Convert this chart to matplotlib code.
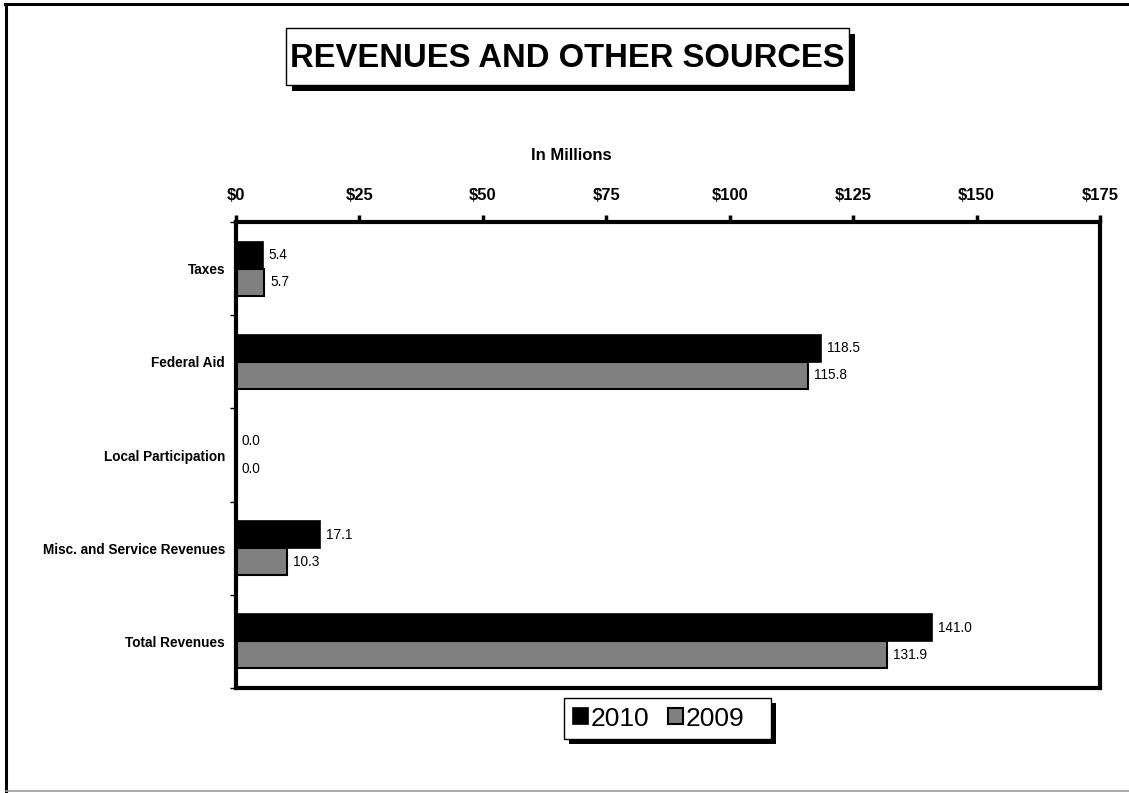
import matplotlib
matplotlib.use("Agg")
import matplotlib.pyplot as plt
from matplotlib.patches import Rectangle
import numpy as np

categories = ["Taxes", "Federal Aid", "Local Participation", "Misc. and Service Revenues", "Total Revenues"]
values_2010 = [5.4, 118.5, 0.0, 17.1, 141.0]
values_2009 = [5.7, 115.8, 0.0, 10.3, 131.9]
series_names = ["2010", "2009"]
xticks = [0, 25, 50, 75, 100, 125, 150, 175]
xtick_labels = ["$0", "$25", "$50", "$75", "$100", "$125", "$150", "$175"]

plt.rcParams['font.family'] = ['Liberation Sans', 'DejaVu Sans']

W, H = 1129, 793
fig = plt.figure(figsize=(W / 100, H / 100), dpi=100)

def fx(px):
    return px / W

def fy(py):
    return 1 - py / H

# outer frame lines
fig.add_artist(plt.Line2D([fx(6), fx(6)], [fy(4), fy(791)], color='black', lw=2.2))
fig.add_artist(plt.Line2D([fx(5), fx(1129)], [fy(4), fy(4)], color='black', lw=2.2))
fig.add_artist(plt.Line2D([fx(6), fx(1129)], [fy(791), fy(791)], color='#999999', lw=1.2))

ax_l, ax_t, ax_r, ax_b = 236, 222, 1100, 688
ax = fig.add_axes([fx(ax_l), fy(ax_b), fx(ax_r) - fx(ax_l), fy(ax_t) - fy(ax_b)])

y = np.arange(len(categories))
h = 0.29
ax.barh(y - h / 2, values_2010, height=h, color='black', edgecolor='black', lw=1.2, label=series_names[0])
ax.barh(y + h / 2, values_2009, height=h, color='#808080', edgecolor='black', lw=1.5, label=series_names[1])

for i in range(len(categories)):
    ax.text(values_2010[i] + 1.2, y[i] - h / 2, f"{values_2010[i]:.1f}", va='center', ha='left', fontsize=9.8)
    ax.text(values_2009[i] + 1.2, y[i] + h / 2, f"{values_2009[i]:.1f}", va='center', ha='left', fontsize=9.8)

ax.set_xlim(0, 175)
ax.set_ylim(len(categories) - 0.5, -0.5)
ax.xaxis.tick_top()
ax.xaxis.set_label_position('top')
ax.set_xticks(xticks)
ax.set_xticklabels(xtick_labels, fontsize=12, fontweight='bold')
ax.tick_params(axis='x', direction='out', length=5, width=2.5, pad=9)
ax.set_xlabel("In Millions", fontsize=12, fontweight='bold')
ax.xaxis.set_label_coords((571 - ax_l) / (ax_r - ax_l), (ax_b - 160) / (ax_b - ax_t))

ax.set_yticks(y)
ax.set_yticklabels(categories, fontsize=9.8, fontweight='bold')
ax.tick_params(axis='y', which='major', length=0, pad=8)
ax.set_yticks(np.arange(-0.5, len(categories), 1.0), minor=True)
ax.tick_params(axis='y', which='minor', direction='out', length=4, width=1)

for s in ax.spines.values():
    s.set_linewidth(3)
    s.set_color('black')

# title box with shadow
tl, tt, tr, tb = 286, 28, 849, 85
off = 6
fig.add_artist(Rectangle((fx(tl + off), fy(tb + off)), fx(tr) - fx(tl), fy(tt) - fy(tb),
                         transform=fig.transFigure, facecolor='black', edgecolor='none'))
fig.add_artist(Rectangle((fx(tl), fy(tb)), fx(tr) - fx(tl), fy(tt) - fy(tb),
                         transform=fig.transFigure, facecolor='white', edgecolor='black', lw=1))
fig.text(fx((tl + tr) / 2), fy((tt + tb) / 2 + 2), "REVENUES AND OTHER SOURCES",
         ha='center', va='center', fontsize=23.6, fontweight='bold')

# legend box with shadow
ll, lt, lr, lb = 564, 698, 771, 739
off2 = 5
fig.add_artist(Rectangle((fx(ll + off2), fy(lb + off2)), fx(lr) - fx(ll), fy(lt) - fy(lb),
                         transform=fig.transFigure, facecolor='black', edgecolor='none'))
fig.add_artist(Rectangle((fx(ll), fy(lb)), fx(lr) - fx(ll), fy(lt) - fy(lb),
                         transform=fig.transFigure, facecolor='white', edgecolor='black', lw=1))
handles, labels = ax.get_legend_handles_labels()
leg = fig.legend(handles, labels, loc='center', bbox_to_anchor=(fx(659), fy((lt + lb) / 2)),
                 ncol=2, frameon=False, fontsize=19, handlelength=0.58, handleheight=0.58,
                 handletextpad=0.1, columnspacing=0.7, borderpad=0)

fig.savefig("out.png", dpi=100)
